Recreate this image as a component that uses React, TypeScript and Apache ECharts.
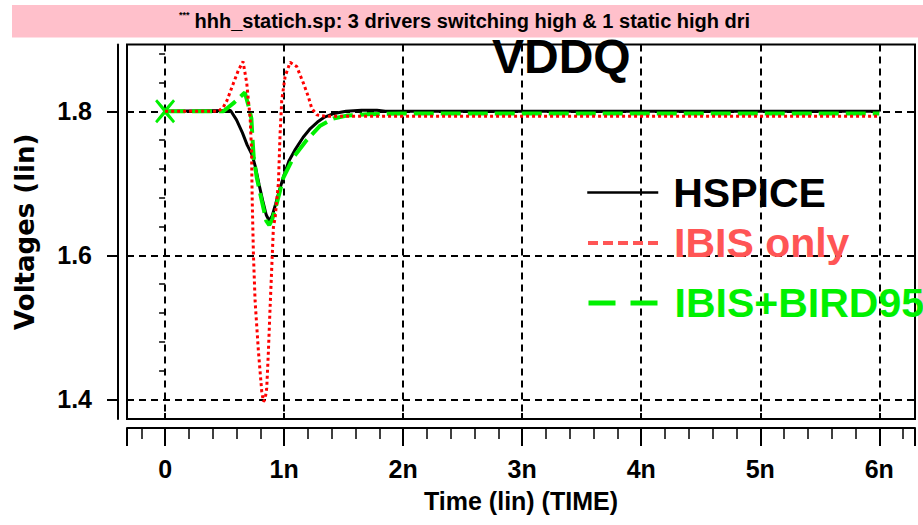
import React, { useEffect, useRef } from 'react';
import * as echarts from 'echarts';

// Time in ns, voltages in V
const hspiceT = [0, 0.55, 0.6, 0.65, 0.69, 0.73, 0.76, 0.79, 0.82, 0.85, 0.875, 0.9, 0.93, 0.96, 1.0, 1.04, 1.09, 1.16, 1.22, 1.28, 1.34, 1.42, 1.52, 1.65, 1.78, 1.85, 6.0];
const hspiceV = [1.8, 1.801, 1.788, 1.77, 1.753, 1.74, 1.722, 1.698, 1.676, 1.656, 1.648, 1.655, 1.672, 1.69, 1.712, 1.731, 1.746, 1.764, 1.776, 1.785, 1.792, 1.797, 1.8, 1.8015, 1.8015, 1.8, 1.8];

const ibisT = [0, 0.45, 0.49, 0.52, 0.574, 0.616, 0.655, 0.686, 0.7, 0.714, 0.726, 0.732, 0.742, 0.756, 0.784, 0.812, 0.826, 0.84, 0.854, 0.868, 0.882, 0.896, 0.91, 0.925, 0.94, 0.952, 0.966, 0.98, 1.008, 1.05, 1.106, 1.162, 1.204, 1.232, 1.275, 1.35, 6.0];
const ibisV = [1.8, 1.8, 1.806, 1.815, 1.839, 1.857, 1.869, 1.839, 1.815, 1.792, 1.746, 1.676, 1.602, 1.537, 1.467, 1.411, 1.397, 1.4, 1.416, 1.467, 1.527, 1.583, 1.639, 1.653, 1.68, 1.7, 1.769, 1.815, 1.848, 1.868, 1.862, 1.839, 1.82, 1.804, 1.795, 1.793, 1.793];

const birdT = [0, 0.49, 0.58, 0.67, 0.7, 0.725, 0.735, 0.745, 0.77, 0.812, 0.85, 0.875, 0.9, 0.938, 0.994, 1.078, 1.19, 1.303, 1.414, 1.527, 1.7, 2.0, 6.0];
const birdV = [1.8, 1.8, 1.812, 1.826, 1.808, 1.79, 1.76, 1.735, 1.708, 1.676, 1.648, 1.642, 1.65, 1.672, 1.708, 1.736, 1.76, 1.78, 1.79, 1.794, 1.796, 1.797, 1.797];

const xMajorTicks = [0, 1, 2, 3, 4, 5, 6];
const xMinorTicks = [-0.2, 0.2, 0.4, 0.6, 0.8, 1.2, 1.4, 1.6, 1.8, 2.2, 2.4, 2.6, 2.8, 3.2, 3.4, 3.6, 3.8, 4.2, 4.4, 4.6, 4.8, 5.2, 5.4, 5.6, 5.8, 6.2];
const yMajorTicks = [1.4, 1.6, 1.8];
const yMinorTicks = [1.44, 1.48, 1.52, 1.56, 1.64, 1.68, 1.72, 1.76, 1.84, 1.88];

const X_MIN = -0.32;
const X_MAX = 6.3;
const Y_MIN = 1.3728;
const Y_MAX = 1.8927;

const TITLE = 'hhh_statich.sp: 3 drivers switching high & 1 static high dri';
const SANS = "'Liberation Sans', Arial, sans-serif";
const DEJAVU = "'DejaVu Sans', sans-serif";
const GREEN = '#00f000';
const LEGEND_RED = '#ff5555';
const X_PATH = 'path://M0,2L2,0L10,9L18,0L20,2L12,12L20,22L18,24L10,15L2,24L0,22L8,12Z';

const fmtX = (v: number) => (v === 0 ? '0' : `${v}n`);

function legendBlock(name: string, top: number, color: string, lineStyle: any) {
  return {
    orient: 'vertical',
    left: 586,
    top,
    padding: 0,
    itemWidth: 71,
    itemHeight: 10,
    selectedMode: false,
    itemStyle: { opacity: 0 },
    textStyle: { fontSize: 41, fontWeight: 'bold', fontFamily: SANS, padding: [0, 0, 0, 10] },
    data: [{ name, textStyle: { color }, lineStyle, itemStyle: { opacity: 0 } }],
  };
}

function buildOption() {
  const hiddenAxisBase = {
    axisLine: { show: false },
    axisLabel: { show: false },
    splitLine: { show: false },
  };
  return {
    animation: false,
    backgroundColor: '#fff',
    title: [
      {
        text: `{s|***} {t|${TITLE}}`,
        left: 179,
        top: 10,
        padding: 0,
        textStyle: {
          rich: {
            s: { fontSize: 9, fontFamily: SANS, color: '#000', verticalAlign: 'top', lineHeight: 22 },
            t: { fontSize: 20, fontFamily: SANS, fontWeight: 'bold', color: '#000', lineHeight: 22 },
          },
        },
      },
      {
        text: 'VDDQ',
        left: 492,
        top: 32,
        padding: 0,
        textStyle: { fontSize: 48, fontWeight: 'bold', fontFamily: SANS, color: '#000' },
      },
    ],
    graphic: [
      { type: 'rect', left: 12, top: 5, z: -10, shape: { width: 911, height: 32.5 }, style: { fill: '#ffc0cb' } },
      { type: 'rect', left: 918, top: 37, z: -10, shape: { width: 5, height: 488 }, style: { fill: '#ffc0cb' } },
    ],
    legend: [
      legendBlock('HSPICE', 172, '#000', { color: '#000', width: 2.5, type: 'solid' }),
      legendBlock('IBIS only', 222.5, LEGEND_RED, { color: LEGEND_RED, width: 4, type: [10, 5] }),
      legendBlock('IBIS+BIRD95', 282.5, GREEN, { color: GREEN, width: 5, type: [27, 15] }),
    ],
    grid: {
      left: 127,
      right: 8,
      top: 44.5,
      bottom: 106,
      show: true,
      borderColor: '#000',
      borderWidth: 2,
      backgroundColor: 'transparent',
    },
    xAxis: [
      {
        type: 'value',
        min: X_MIN,
        max: X_MAX,
        splitNumber: 6,
        position: 'bottom',
        offset: 9,
        axisLine: { show: true, onZero: false, lineStyle: { color: '#000', width: 2 } },
        axisTick: { show: true, length: 18, customValues: [X_MIN, ...xMajorTicks, X_MAX], lineStyle: { color: '#000', width: 2 } },
        axisLabel: {
          show: true,
          customValues: xMajorTicks,
          margin: 28,
          formatter: fmtX,
          color: '#000',
          fontSize: 25,
          fontFamily: SANS,
          fontWeight: 'bold',
        },
        splitLine: { show: true, lineStyle: { color: '#000', width: 2, type: [7, 5] } },
        name: 'Time (lin) (TIME)',
        nameLocation: 'middle',
        nameGap: 60,
        nameTextStyle: { fontSize: 25, fontWeight: 'bold', fontFamily: SANS, color: '#000' },
      },
      {
        type: 'value', min: X_MIN, max: X_MAX, position: 'top', ...hiddenAxisBase,
        axisTick: { show: true, inside: true, length: 6, customValues: xMajorTicks, lineStyle: { color: '#000', width: 2 } },
      },
      {
        type: 'value', min: X_MIN, max: X_MAX, position: 'bottom', offset: 0, ...hiddenAxisBase,
        axisTick: { show: true, inside: true, length: 6, customValues: xMajorTicks, lineStyle: { color: '#000', width: 2 } },
      },
      {
        type: 'value', min: X_MIN, max: X_MAX, position: 'bottom', offset: 9, ...hiddenAxisBase,
        axisTick: { show: true, length: 11, customValues: xMinorTicks, lineStyle: { color: '#000', width: 1.5 } },
      },
    ],
    yAxis: [
      {
        type: 'value',
        min: Y_MIN,
        max: Y_MAX,
        splitNumber: 3,
        position: 'left',
        offset: 9,
        axisLine: { show: true, onZero: false, lineStyle: { color: '#000', width: 2 } },
        axisTick: { show: true, length: 11, customValues: yMajorTicks, lineStyle: { color: '#000', width: 2 } },
        axisLabel: {
          show: true,
          customValues: yMajorTicks,
          margin: 26,
          formatter: (v: number) => v.toFixed(1),
          color: '#000',
          fontSize: 25,
          fontFamily: SANS,
          fontWeight: 'bold',
        },
        splitLine: { show: true, lineStyle: { color: '#000', width: 2, type: [7, 5] } },
        name: 'Voltages (lin)',
        nameLocation: 'middle',
        nameGap: 80,
        nameTextStyle: { fontSize: 26, fontWeight: 'bold', fontFamily: DEJAVU, color: '#000' },
      },
      {
        type: 'value', min: Y_MIN, max: Y_MAX, position: 'left', offset: 9, ...hiddenAxisBase,
        axisTick: { show: true, length: 6, customValues: yMinorTicks, lineStyle: { color: '#000', width: 1.5 } },
      },
    ],
    series: [
      {
        name: 'HSPICE',
        type: 'line',
        silent: true,
        symbol: 'none',
        z: 2,
        data: hspiceT.map((t, i) => [t, hspiceV[i]]),
        lineStyle: { color: '#000', width: 3, type: 'solid' },
        itemStyle: { color: '#000' },
      },
      {
        name: 'IBIS+BIRD95',
        type: 'line',
        silent: true,
        symbol: 'none',
        showSymbol: true,
        z: 3,
        data: birdT.map((t, i) =>
          i === 0
            ? { value: [t, birdV[i]], symbol: X_PATH, symbolSize: [20, 24], itemStyle: { color: GREEN } }
            : [t, birdV[i]]
        ),
        lineStyle: { color: GREEN, width: 4, type: [20, 7] },
        itemStyle: { color: GREEN },
      },
      {
        name: 'IBIS only',
        type: 'line',
        silent: true,
        symbol: 'none',
        z: 4,
        data: ibisT.map((t, i) => [t, ibisV[i]]),
        lineStyle: { color: '#ff0000', width: 3, type: [3, 3] },
        itemStyle: { color: '#ff0000' },
      },
    ],
  };
}

export default function App() {
  const ref = useRef<HTMLDivElement>(null);
  useEffect(() => {
    if (!ref.current) return;
    const chart = echarts.init(ref.current, null, { renderer: 'svg' });
    chart.setOption(buildOption() as any);
    return () => chart.dispose();
  }, []);
  return (
    <div
      ref={ref}
      style={{ position: 'fixed', left: 0, top: 0, width: 923, height: 525, background: '#fff' }}
    />
  );
}
